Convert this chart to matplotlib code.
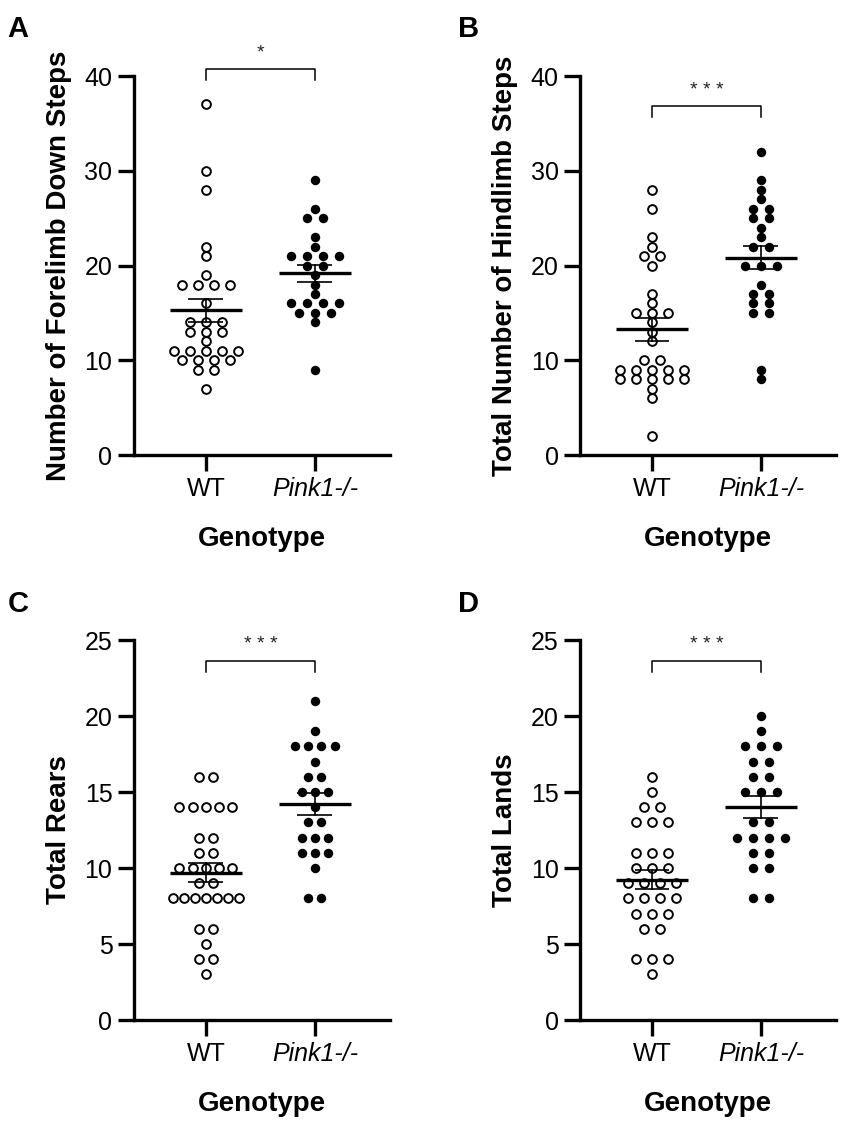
import matplotlib.pyplot as plt
import numpy as np

plt.rcParams['font.family'] = ['Liberation Sans', 'DejaVu Sans']

# Data (one value per animal)
groups = ["WT", "Pink1-/-"]

forelimb_wt = [37, 30, 28, 22, 21, 19, 18, 18, 18, 18, 16, 14, 14, 14, 13, 13, 13,
               12, 11, 11, 11, 11, 11, 10, 10, 10, 10, 9, 9, 7]
forelimb_pink = [29, 26, 25, 25, 23, 22, 21, 21, 21, 21, 20, 20, 19, 18, 17,
                 16, 16, 16, 16, 15, 15, 15, 14, 9]

hindlimb_wt = [28, 26, 23, 22, 21, 21, 20, 17, 16, 15, 15, 15, 14, 13, 12, 10, 10,
               9, 9, 9, 9, 9, 8, 8, 8, 8, 8, 7, 6, 2]
hindlimb_pink = [32, 29, 28, 27, 26, 26, 25, 25, 24, 23, 22, 22, 20, 20, 20, 18,
                 17, 17, 16, 16, 15, 15, 9, 8]

rears_wt = [16, 16, 14, 14, 14, 14, 14, 12, 12, 11, 11, 10, 10, 10, 10, 10, 9, 9,
            8, 8, 8, 8, 8, 8, 8, 6, 6, 5, 4, 4, 3]
rears_pink = [21, 19, 18, 18, 18, 18, 17, 16, 16, 15, 15, 15, 14, 13, 13, 12, 12,
              12, 11, 11, 11, 10, 8, 8]

lands_wt = [16, 15, 14, 14, 13, 13, 13, 11, 11, 11, 10, 10, 10, 9, 9, 9, 9,
            8, 8, 8, 8, 7, 7, 7, 6, 6, 4, 4, 4, 3]
lands_pink = [20, 19, 18, 18, 18, 17, 17, 16, 16, 15, 15, 15, 13, 13, 12, 12, 12,
              12, 11, 11, 10, 10, 8, 8]

ylabels = ["Number of Forelimb Down Steps", "Total Number of Hindlimb Steps",
           "Total Rears", "Total Lands"]
letters = ["A", "B", "C", "D"]
stars = ["*", "* * *", "* * *", "* * *"]
ymax = [40, 40, 25, 25]
ystep = [10, 10, 5, 5]


def swarm_x(values, center, step, max_half):
    # spread equal values side by side, like a Prism scatter dot plot
    values = np.asarray(values)
    xs = np.zeros(len(values), dtype=float)
    for v in np.unique(values):
        idx = np.where(values == v)[0]
        n = len(idx)
        s = step if n < 2 else min(step, 2 * max_half / (n - 1))
        xs[idx] = center + (np.arange(n) - (n - 1) / 2) * s
    return xs


fig = plt.figure(figsize=(8.5, 11.3), dpi=100)

positions = [[0.1576, 0.5973, 0.3012, 0.3354],
             [0.6824, 0.5973, 0.3012, 0.3354],
             [0.1576, 0.0973, 0.3012, 0.3363],
             [0.6824, 0.0973, 0.3012, 0.3363]]
data = [(forelimb_wt, forelimb_pink), (hindlimb_wt, hindlimb_pink),
        (rears_wt, rears_pink), (lands_wt, lands_pink)]
steps = [0.147, 0.147, 0.122, 0.147]
bracket_top = [40.7, 36.8, 23.6, 23.6]
bracket_leg = [39.6, 35.7, 22.9, 22.9]
star_y = [42.4, 38.5, 24.7, 24.7]
letter_pos = [(0.009, 0.987), (0.539, 0.987), (0.009, 0.478), (0.539, 0.478)]

for k in range(4):
    ax = fig.add_axes(positions[k])
    wt, pink = data[k]

    for i, vals in enumerate([wt, pink]):
        xs = swarm_x(vals, i, steps[k], 0.30)
        if i == 0:
            ax.scatter(xs, vals, s=6.3 ** 2, facecolor='white', edgecolor='black',
                       linewidth=1.4, zorder=2, clip_on=False)
        else:
            ax.scatter(xs, vals, s=6.8 ** 2, color='black', linewidth=0,
                       zorder=2, clip_on=False)
        m = np.mean(vals)
        sem = np.std(vals, ddof=1) / np.sqrt(len(vals))
        ax.plot([i - 0.33, i + 0.33], [m, m], color='black', lw=2.4, zorder=3,
                solid_capstyle='butt')
        ax.plot([i, i], [m - sem, m + sem], color='black', lw=1.2, zorder=3)
        for e in (m - sem, m + sem):
            ax.plot([i - 0.16, i + 0.16], [e, e], color='black', lw=1.2, zorder=3,
                    solid_capstyle='butt')

    # significance bracket
    ax.plot([0, 0, 1, 1], [bracket_leg[k], bracket_top[k], bracket_top[k], bracket_leg[k]],
            color='black', lw=1.1, clip_on=False)
    ax.text(0.5, star_y[k], stars[k], ha='center', va='center', fontsize=14,
            color='#222222')

    ax.set_xlim(-0.66, 1.69)
    ax.set_ylim(0, ymax[k])
    ax.set_yticks(np.arange(0, ymax[k] + 1, ystep[k]))
    ax.set_xticks([0, 1])
    ax.set_xticklabels(groups)
    ax.get_xticklabels()[1].set_fontstyle('italic')

    for side in ['top', 'right']:
        ax.spines[side].set_visible(False)
    for side in ['left', 'bottom']:
        ax.spines[side].set_linewidth(2.4)
    ax.tick_params(axis='both', length=11.5, width=2.4, labelsize=18, pad=4)

    ax.set_xlabel("Genotype", fontsize=20, fontweight='bold', labelpad=18)
    ax.set_ylabel(ylabels[k], fontsize=20, fontweight='bold', labelpad=9)

    fig.text(letter_pos[k][0], letter_pos[k][1], letters[k], fontsize=21,
             fontweight='bold', ha='left', va='top')

fig.savefig("out.png", dpi=100, facecolor='white')
